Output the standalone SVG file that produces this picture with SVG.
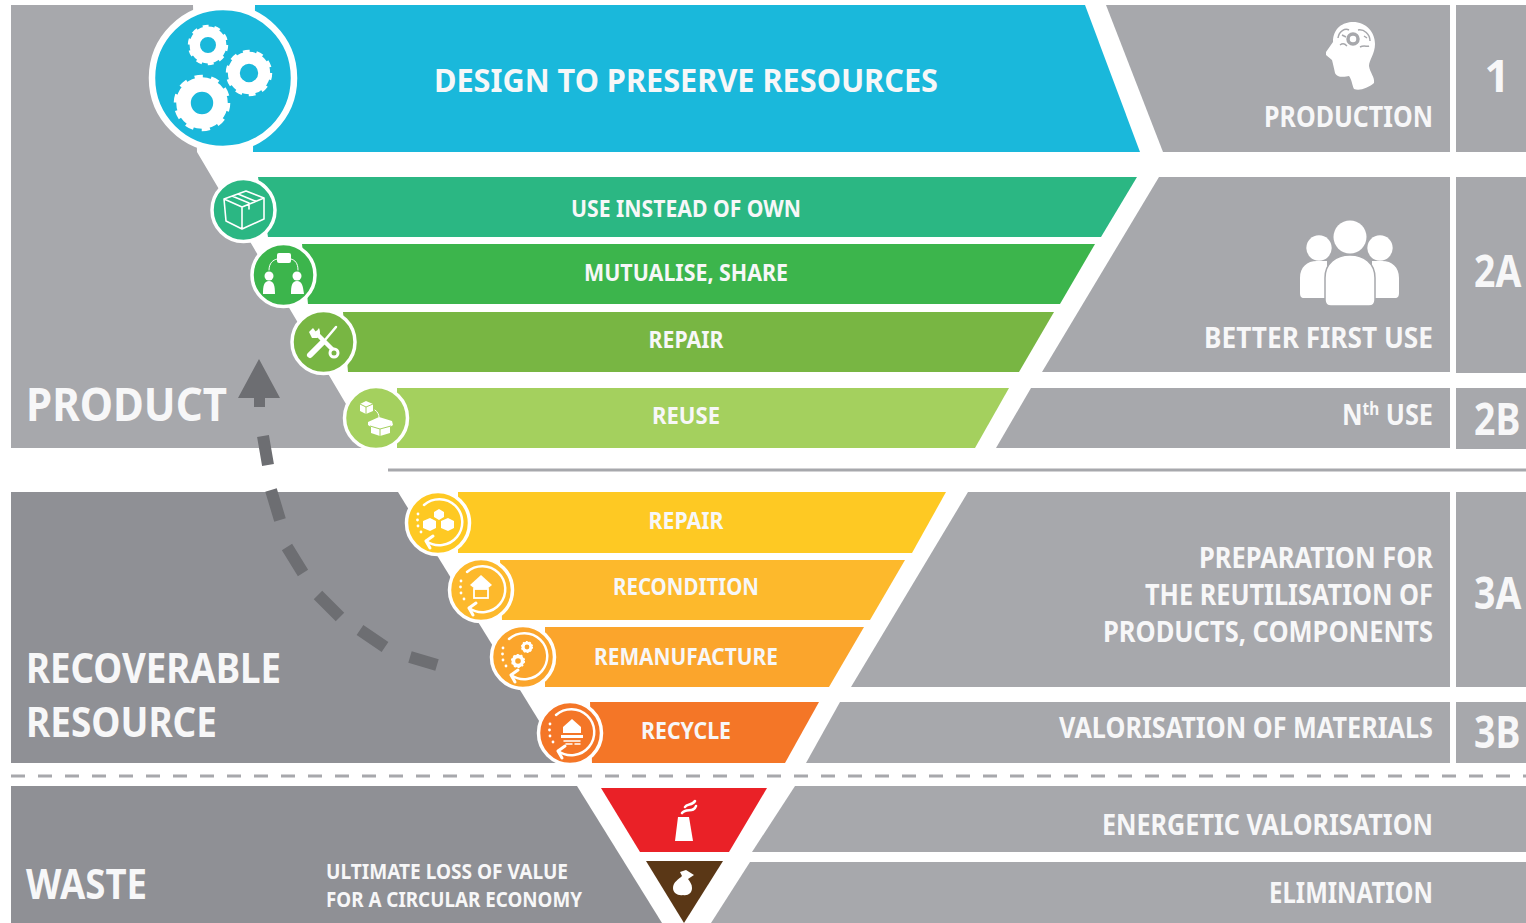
<svg xmlns="http://www.w3.org/2000/svg" xmlns:xlink="http://www.w3.org/1999/xlink" width="1526" height="923" viewBox="0 0 1526 923">
<style>
text{font-family:"Noto Sans","Open Sans","Liberation Sans",sans-serif;font-weight:700;fill:#f7f7f8}
.panel{fill:#a7a8ac}
.dark{fill:#8f9095}
.ring{stroke:#fff;stroke-width:3.5}
.m{text-anchor:middle}
.e{text-anchor:end}
.line{fill:none;stroke:#fff;stroke-linecap:round;stroke-linejoin:round}
.solid{fill:#fff;stroke:none}
</style>
<defs>
<g id="gear">
<circle r="0.66" fill="none" stroke="#fff" stroke-width="0.52"/>
<circle r="0.9" fill="none" stroke="#fff" stroke-width="0.22" pathLength="18" stroke-dasharray="1 1"/>
</g>
<g id="cycle">
<path class="line" stroke-width="2.5" d="M-14,-18 A23,23 0 1 1 -12,18"/>
<path class="line" stroke-width="3" d="M-5,13 L-12,18 L-8,25"/>
<circle class="solid" cx="-20" cy="-9" r="1.400"/>
<circle class="solid" cx="-20.500" cy="-3" r="1.400"/>
<circle class="solid" cx="-20" cy="3" r="1.400"/>
<circle class="solid" cx="-17" cy="9" r="1.400"/>
</g>
</defs>

<g id="background-zones">
<polygon class="panel" points="11,5 193,5 197,152 372,448 11,448"/>
<polygon class="dark" points="11,492 398,492 565,763 11,763"/>
<polygon class="dark" points="11,786 577,786 662,923 11,923"/>
<line x1="388" y1="470" x2="1526" y2="470" stroke="#a7a8ac" stroke-width="3"/>
<line x1="11" y1="776" x2="1526" y2="776" stroke="#a7a8ac" stroke-width="3" stroke-dasharray="14 13"/>
</g>

<g id="connectors">
<path d="M437,665 L410,657 M385,647 L360,630 M340,617 L318,595 M303,573 L287,547 M280,520 L271,490 M268,465 L263,436" fill="none" stroke="#6d6e72" stroke-width="12"/>
<polygon points="259,359 280,398 265,398 265,407 254,407 254,398 238,398" fill="#6d6e72"/>
</g>

<g id="zone-labels">
<text x="26" y="421" font-size="47" textLength="201" lengthAdjust="spacingAndGlyphs">PRODUCT</text>
<text x="26" y="683" font-size="41" textLength="255" lengthAdjust="spacingAndGlyphs">RECOVERABLE</text>
<text x="26" y="737" font-size="41" textLength="191" lengthAdjust="spacingAndGlyphs">RESOURCE</text>
<text x="26" y="899" font-size="41" textLength="121" lengthAdjust="spacingAndGlyphs">WASTE</text>
<text x="326" y="879" font-size="22" textLength="242" lengthAdjust="spacingAndGlyphs">ULTIMATE LOSS OF VALUE</text>
<text x="326" y="907" font-size="22" textLength="256" lengthAdjust="spacingAndGlyphs">FOR A CIRCULAR ECONOMY</text>
</g>

<g id="node-design">
<polygon points="255,5 1085,5 1140,152 253,152" fill="#1ab8db"/>
<circle cx="223" cy="78" r="71" fill="#1ab8db" stroke="#fff" stroke-width="6.500"/>
<use xlink:href="#gear" href="#gear" transform="translate(208,45) scale(20)"/>
<use xlink:href="#gear" href="#gear" transform="translate(249,73) scale(23)"/>
<use xlink:href="#gear" href="#gear" transform="translate(202,103) scale(28)"/>
<text x="434" y="92" font-size="33" textLength="504" lengthAdjust="spacingAndGlyphs">DESIGN TO PRESERVE RESOURCES</text>
</g>

<g id="node-use-instead">
<polygon points="258,177 1137,177 1101,237 268,237" fill="#2bb783"/>
<circle class="ring" cx="243.500" cy="210" r="31.500" fill="#2bb783"/>
<path class="line" stroke-width="1.600" d="M224,199 L246,191 L264,198 L264,219 L242,229 L226,221 Z M224,199 L242,207 L264,198 M242,207 V229 M232,196 L249,203 L249,209 M238,194 L255,201"/>
<text class="m" x="686" y="217" font-size="24" textLength="230" lengthAdjust="spacingAndGlyphs">USE INSTEAD OF OWN</text>
</g>

<g id="node-mutualise">
<polygon points="302,244 1095,244 1060,304 308,304" fill="#3cb54c"/>
<circle class="ring" cx="283.500" cy="275" r="31.500" fill="#3cb54c"/>
<path class="line" stroke-width="1" d="M269,270 C269,263 273,260 277,259 M291,259 C295,260 298,263 298,270"/>
<rect class="solid" x="277" y="253" width="14" height="10" rx="2"/>
<circle class="solid" cx="269" cy="276" r="4.500"/>
<circle class="solid" cx="297" cy="276" r="4.500"/>
<path class="solid" d="M263,294 C263,286 264,281 269,281 C274,281 275,286 275,294 Z M291,294 C291,286 292,281 297,281 C302,281 303,286 304,294 Z"/>
<text class="m" x="686" y="281" font-size="23" textLength="204" lengthAdjust="spacingAndGlyphs">MUTUALISE, SHARE</text>
</g>

<g id="node-repair-product">
<polygon points="343,312 1054,312 1019,372 348,372" fill="#78b643"/>
<circle class="ring" cx="323.500" cy="342" r="31.500" fill="#78b643"/>
<path d="M310,355 L323,342" stroke="#fff" stroke-width="6" stroke-linecap="round"/>
<path d="M325,340 L336,327" stroke="#fff" stroke-width="2.500" stroke-linecap="round"/>
<path d="M315,332 L334,351" stroke="#fff" stroke-width="4.500"/>
<path class="solid" d="M309,332 L313,328 L316,332 L319,328 C321,333 320,336 317,338 L312,338 Z"/>
<circle cx="334" cy="353" r="4" fill="#78b643" stroke="#fff" stroke-width="3"/>
<text class="m" x="686" y="348" font-size="23" textLength="75" lengthAdjust="spacingAndGlyphs">REPAIR</text>
</g>

<g id="node-reuse">
<polygon points="397,388 1009,388 975,448 397,448" fill="#a4d05e"/>
<circle class="ring" cx="376" cy="418" r="31.500" fill="#a4d05e"/>
<path class="solid" d="M360,404 L366,401 L373,404 L373,411 L366,414 L360,411 Z"/>
<path d="M360,404 L366,407 L373,404 M366,407 V414" fill="none" stroke="#a4d05e" stroke-width="1"/>
<path class="line" stroke-width="1" d="M375,410 C378,412 379,415 379,417"/>
<path class="solid" d="M368,422 L379,417 L392,421 L393,425 L390,427 L390,433 L380,436 L371,433 L371,427 L368,425 Z"/>
<path d="M370,426 L380,429 L391,426 M380,429 V436" fill="none" stroke="#a4d05e" stroke-width="1"/>
<text class="m" x="686" y="424" font-size="23" textLength="68" lengthAdjust="spacingAndGlyphs">REUSE</text>
</g>

<g id="node-repair-resource">
<polygon points="458,492 946,492 912,553 458,553" fill="#fec923"/>
<circle class="ring" cx="438" cy="523" r="31.500" fill="#fec923"/>
<use xlink:href="#cycle" href="#cycle" transform="translate(438,523)"/>
<path class="solid" d="M434,512 L439,509 L444,512 L444,517 L439,520 L434,517 Z M423,521 L430,518 L436,521 L436,528 L430,531 L423,528 Z M441,521 L448,518 L454,521 L454,528 L448,531 L441,528 Z"/>
<text class="m" x="686" y="529" font-size="23" textLength="75" lengthAdjust="spacingAndGlyphs">REPAIR</text>
</g>

<g id="node-recondition">
<polygon points="500,560 905,560 870,620 502,620" fill="#fdb92c"/>
<circle class="ring" cx="481" cy="590" r="31.500" fill="#fdb92c"/>
<use xlink:href="#cycle" href="#cycle" transform="translate(481,590)"/>
<path class="solid" d="M470,585 L481,575 L492,585 L487,589 L475,589 Z"/>
<rect x="474" y="589" width="14" height="9" fill="none" stroke="#fff" stroke-width="1.800"/>
<text class="m" x="686" y="595" font-size="23" textLength="146" lengthAdjust="spacingAndGlyphs">RECONDITION</text>
</g>

<g id="node-remanufacture">
<polygon points="545,627 864,627 829,687 545,687" fill="#fba52c"/>
<circle class="ring" cx="523" cy="657" r="31.500" fill="#fba52c"/>
<use xlink:href="#cycle" href="#cycle" transform="translate(523,657)"/>
<use xlink:href="#gear" href="#gear" transform="translate(518,661) scale(7)"/>
<use xlink:href="#gear" href="#gear" transform="translate(527,647) scale(6)"/>
<text class="m" x="686" y="665" font-size="23" textLength="184" lengthAdjust="spacingAndGlyphs">REMANUFACTURE</text>
</g>

<g id="node-recycle">
<polygon points="590,702 819,702 785,763 592,763" fill="#f47627"/>
<circle class="ring" cx="570" cy="733" r="31.500" fill="#f47627"/>
<use xlink:href="#cycle" href="#cycle" transform="translate(570,733)"/>
<path class="solid" d="M563,727 L572,719 L581,727 L581,733 L563,733 Z M561,735 H583 V738 H561 Z"/>
<path class="line" stroke-width="1.500" d="M564,741 H580 M566,744 H572 M575,744 H580"/>
<text class="m" x="686" y="739" font-size="23" textLength="90" lengthAdjust="spacingAndGlyphs">RECYCLE</text>
</g>

<g id="node-energetic-shape">
<polygon points="601,788 767,788 729,852 640,852" fill="#ea2127"/>
<polygon class="solid" points="675,841 693,841 689,817 678,817"/>
<path class="line" stroke-width="2.600" d="M682,813 C686,808 694,813 696,806 M685,807 C687,803 692,806 695,801"/>
</g>
<g id="node-elimination-shape">
<polygon points="646,861 723,861 684,923" fill="#5a3716"/>
<path class="solid" d="M673,888 C673,882 679,879 682,876 L680,872 L686,870 L694,875 L688,879 C690,882 692,884 692,888 C692,893 688,896 683,895 C678,896 673,893 673,888 Z"/>
</g>

<g id="node-production">
<polygon class="panel" points="1106,5 1450,5 1450,152 1163,152"/>
<path class="solid" d="M1333,42 C1333,28 1343,22 1353,22 C1366,22 1375,32 1375,44 C1375,54 1369,60 1369,66 C1370,73 1375,77 1374,83 C1368,88 1360,91 1354,89 C1352,85 1352,80 1349,76 C1345,77 1337,78 1335,73 C1334,68 1333,64 1332,60 L1326,55 L1326,52 Z"/>
<circle cx="1353" cy="39" r="5" fill="none" stroke="#a7a8ac" stroke-width="3.500"/>
<path d="M1338,38 C1339,31 1345,28 1349,30 M1358,30 C1364,29 1370,34 1370,41 M1340,45 C1344,42 1346,45 1347,46 M1360,47 C1364,45 1367,47 1369,46 M1342,35 L1346,37 M1364,36 L1367,38" fill="none" stroke="#a7a8ac" stroke-width="1.500"/>
<text class="e" x="1433" y="127" font-size="28" textLength="169" lengthAdjust="spacingAndGlyphs">PRODUCTION</text>
</g>
<g id="node-level-1">
<rect class="panel" x="1456" y="5" width="70" height="147"/>
<text class="m" x="1497" y="92" font-size="44">1</text>
</g>

<g id="node-better-first-use">
<polygon class="panel" points="1159,177 1450,177 1450,372 1042,372"/>
<g transform="translate(2,0)">
<circle class="solid" cx="1317" cy="248" r="12.700"/>
<circle class="solid" cx="1378" cy="248" r="12.700"/>
<circle class="solid" cx="1348" cy="237" r="16.500"/>
<path class="solid" d="M1298,293 V278 C1298,267 1305,261 1315,261 H1325 V298 H1302 C1299,298 1298,296 1298,293 Z M1397,293 V278 C1397,267 1390,261 1380,261 H1370 V298 H1393 C1396,298 1397,296 1397,293 Z"/>
<path d="M1323,278 C1323,263 1334,255 1348,255 C1362,255 1373,263 1373,278 V300 C1373,304 1371,306 1367,306 H1329 C1325,306 1323,304 1323,300 Z" fill="#fff" stroke="#a7a8ac" stroke-width="1.500"/>
</g>
<text class="e" x="1433" y="348" font-size="28" textLength="229" lengthAdjust="spacingAndGlyphs">BETTER FIRST USE</text>
</g>
<g id="node-level-2a">
<rect class="panel" x="1456" y="177" width="70" height="196"/>
<text transform="translate(1474,287) scale(0.85,1)" font-size="44">2A</text>
</g>

<g id="node-nth-use">
<polygon class="panel" points="1031,388 1450,388 1450,448 996,448"/>
<text x="1342" y="425" font-size="28" textLength="91" lengthAdjust="spacingAndGlyphs">N<tspan font-size="17" dy="-10">th</tspan><tspan dy="10"> USE</tspan></text>
</g>
<g id="node-level-2b">
<rect class="panel" x="1456" y="388" width="70" height="61"/>
<text transform="translate(1474,435) scale(0.85,1)" font-size="44">2B</text>
</g>

<g id="node-preparation">
<polygon class="panel" points="968,492 1450,492 1450,687 851,687"/>
<text class="e" x="1433" y="568" font-size="28" textLength="234" lengthAdjust="spacingAndGlyphs">PREPARATION FOR</text>
<text class="e" x="1433" y="605" font-size="28" textLength="288" lengthAdjust="spacingAndGlyphs">THE REUTILISATION OF</text>
<text class="e" x="1433" y="642" font-size="28" textLength="330" lengthAdjust="spacingAndGlyphs">PRODUCTS, COMPONENTS</text>
</g>
<g id="node-level-3a">
<rect class="panel" x="1456" y="492" width="70" height="195"/>
<text transform="translate(1474,609) scale(0.85,1)" font-size="44">3A</text>
</g>

<g id="node-valorisation">
<polygon class="panel" points="840,702 1450,702 1450,763 806,763"/>
<text class="e" x="1433" y="738" font-size="28" textLength="374" lengthAdjust="spacingAndGlyphs">VALORISATION OF MATERIALS</text>
</g>
<g id="node-level-3b">
<rect class="panel" x="1456" y="702" width="70" height="61"/>
<text transform="translate(1474,748) scale(0.85,1)" font-size="44">3B</text>
</g>

<g id="node-energetic">
<polygon class="panel" points="795,786 1526,786 1526,852 752,852"/>
<text class="e" x="1433" y="835" font-size="28" textLength="331" lengthAdjust="spacingAndGlyphs">ENERGETIC VALORISATION</text>
</g>
<g id="node-elimination">
<polygon class="panel" points="750,862 1526,862 1526,923 711,923"/>
<text class="e" x="1433" y="903" font-size="28" textLength="164" lengthAdjust="spacingAndGlyphs">ELIMINATION</text>
</g>
</svg>
